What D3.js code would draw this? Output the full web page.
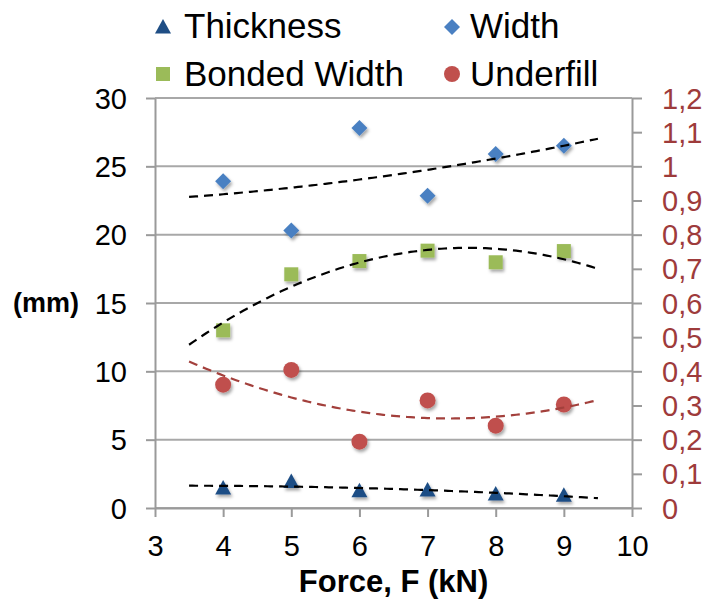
<!DOCTYPE html>
<html>
<head>
<meta charset="utf-8">
<script src="https://cdn.jsdelivr.net/npm/d3@7"></script>
<style>
  html, body { margin: 0; padding: 0; background: #fff; }
  svg { display: block; font-family: "Liberation Sans", Arial, sans-serif; }
</style>
</head>
<body>
<svg id="chart" width="705" height="606"></svg>
<script>
// Measurements against applied force
const force = [4, 5, 6, 7, 8, 9];
const thickness = [1.46, 1.93, 1.27, 1.32, 1.02, 0.93];      // mm
const width = [23.9, 20.3, 27.8, 22.85, 25.9, 26.5];          // mm
const bondedWidth = [13.0, 17.1, 18.07, 18.83, 17.98, 18.8];  // mm
const underfill = [0.361, 0.404, 0.194, 0.315, 0.241, 0.303]; // right axis

const xTicks = [3, 4, 5, 6, 7, 8, 9, 10];
const leftTicks = [0, 5, 10, 15, 20, 25, 30];
const rightTicks = [0, 0.1, 0.2, 0.3, 0.4, 0.5, 0.6, 0.7, 0.8, 0.9, 1, 1.1, 1.2];
const rightTickLabels = ["0", "0,1", "0,2", "0,3", "0,4", "0,5", "0,6", "0,7", "0,8", "0,9", "1", "1,1", "1,2"];
const trendRange = [3.5, 9.5];

const svg = d3.select("#chart");
const plot = { left: 155, right: 632, top: 98, bottom: 508 };

const x = d3.scaleLinear().domain([3, 10]).range([plot.left, plot.right]);
const yL = d3.scaleLinear().domain([0, 30]).range([plot.bottom, plot.top]);
const yR = d3.scaleLinear().domain([0, 1.2]).range([plot.bottom, plot.top]);

const axisColor = "#9a9a9a";
const gridColor = "#a8a8a8";
const redText = "#9e3b3b";

// soft shadow under the markers
const defs = svg.append("defs");
const f = defs.append("filter").attr("id", "shadow")
  .attr("x", "-50%").attr("y", "-50%").attr("width", "200%").attr("height", "200%");
f.append("feDropShadow").attr("dx", 1.5).attr("dy", 2.5).attr("stdDeviation", 1.5)
  .attr("flood-color", "#000").attr("flood-opacity", 0.35);

// horizontal gridlines
svg.append("g").selectAll("line").data(leftTicks).join("line")
  .attr("x1", plot.left).attr("x2", plot.right)
  .attr("y1", d => yL(d)).attr("y2", d => yL(d))
  .attr("stroke", gridColor).attr("stroke-width", 2);

function styleAxis(g, color) {
  g.select(".domain").attr("stroke", axisColor).attr("stroke-width", 2);
  g.selectAll(".tick line").attr("stroke", axisColor).attr("stroke-width", 2);
  g.selectAll(".tick text").attr("fill", color).attr("font-size", 29)
    .attr("font-family", "Liberation Sans, Arial, sans-serif");
}

// left axis
const gL = svg.append("g").attr("transform", `translate(${plot.left},0)`)
  .call(d3.axisLeft(yL).tickValues(leftTicks).tickSize(9).tickSizeOuter(0).tickPadding(19));
styleAxis(gL, "#000");
gL.selectAll(".tick text").attr("dy", "0.35em");

// right axis
const gR = svg.append("g").attr("transform", `translate(${plot.right},0)`)
  .call(d3.axisRight(yR).tickValues(rightTicks).tickSize(10).tickSizeOuter(0).tickPadding(20)
    .tickFormat((d, i) => rightTickLabels[i]));
styleAxis(gR, redText);
gR.selectAll(".tick text").attr("dy", "0.35em");

// bottom axis
const gB = svg.append("g").attr("transform", `translate(0,${plot.bottom})`)
  .call(d3.axisBottom(x).tickValues(xTicks).tickSize(9).tickSizeOuter(0).tickPadding(18)
    .tickFormat(d3.format("d")));
styleAxis(gB, "#000");

// axis titles
svg.append("text").attr("x", 13).attr("y", 312)
  .attr("font-size", 27).attr("font-weight", "bold").text("(mm)");
svg.append("text").attr("x", (plot.left + plot.right) / 2).attr("y", 592)
  .attr("text-anchor", "middle").attr("font-size", 31).attr("font-weight", "bold")
  .text("Force, F (kN)");

// least-squares quadratic trend
function quadFit(xs, ys) {
  const n = xs.length;
  let s = [0, 0, 0, 0, 0], t = [0, 0, 0];
  xs.forEach((xv, i) => {
    const p = [1, xv, xv * xv, xv ** 3, xv ** 4];
    for (let k = 0; k < 5; k++) s[k] += p[k];
    t[0] += ys[i]; t[1] += ys[i] * xv; t[2] += ys[i] * xv * xv;
  });
  const A = [[s[0], s[1], s[2]], [s[1], s[2], s[3]], [s[2], s[3], s[4]]];
  const det = m => m[0][0] * (m[1][1] * m[2][2] - m[1][2] * m[2][1])
    - m[0][1] * (m[1][0] * m[2][2] - m[1][2] * m[2][0])
    + m[0][2] * (m[1][0] * m[2][1] - m[1][1] * m[2][0]);
  const D = det(A);
  const coef = [0, 1, 2].map(c => det(A.map((row, r) => row.map((v, j) => j === c ? t[r] : v))) / D);
  return xv => coef[0] + coef[1] * xv + coef[2] * xv * xv;
}

function trend(values, yScale, color) {
  const fn = quadFit(force, values);
  const xs = d3.range(trendRange[0], trendRange[1] + 1e-9, 0.05);
  svg.append("path")
    .datum(xs)
    .attr("fill", "none").attr("stroke", color).attr("stroke-width", 2.2)
    .attr("stroke-dasharray", "9,6")
    .attr("d", d3.line().x(d => x(d)).y(d => yScale(fn(d))));
}

const series = [
  { name: "Thickness", values: thickness, y: yL, color: "#1f4e85", symbol: "triangle", trend: "#000" },
  { name: "Width", values: width, y: yL, color: "#4a80c2", symbol: "diamond", trend: "#000" },
  { name: "Bonded Width", values: bondedWidth, y: yL, color: "#9bbb59", symbol: "square", trend: "#000" },
  { name: "Underfill", values: underfill, y: yR, color: "#c0504d", symbol: "circle", trend: "#a3403c" }
];

function markerPath(sym) {
  if (sym === "triangle") return "M0,-8L8,6.5L-8,6.5Z";
  if (sym === "diamond") return "M0,-8L8,0L0,8L-8,0Z";
  if (sym === "square") return "M-7,-7H7V7H-7Z";
  return d3.symbol(d3.symbolCircle, Math.PI * 8 * 8)();
}

// markers
series.forEach(s => {
  svg.append("g").attr("filter", "url(#shadow)")
    .selectAll("path").data(s.values).join("path")
    .attr("d", markerPath(s.symbol))
    .attr("transform", (d, i) => `translate(${x(force[i])},${s.y(d)})`)
    .attr("fill", s.color);
});

// trendlines
series.forEach(s => trend(s.values, s.y, s.trend));

// legend
const legend = [
  { s: series[0], mx: 163, my: 27, tx: 184, ty: 38 },
  { s: series[1], mx: 452, my: 27, tx: 470, ty: 38 },
  { s: series[2], mx: 163, my: 74, tx: 184, ty: 86 },
  { s: series[3], mx: 452, my: 74, tx: 470, ty: 86 }
];
legend.forEach(l => {
  svg.append("path").attr("d", markerPath(l.s.symbol))
    .attr("transform", `translate(${l.mx},${l.my})`).attr("fill", l.s.color);
  svg.append("text").attr("x", l.tx).attr("y", l.ty)
    .attr("font-size", 35).attr("fill", "#000").text(l.s.name);
});
</script>
</body>
</html>
